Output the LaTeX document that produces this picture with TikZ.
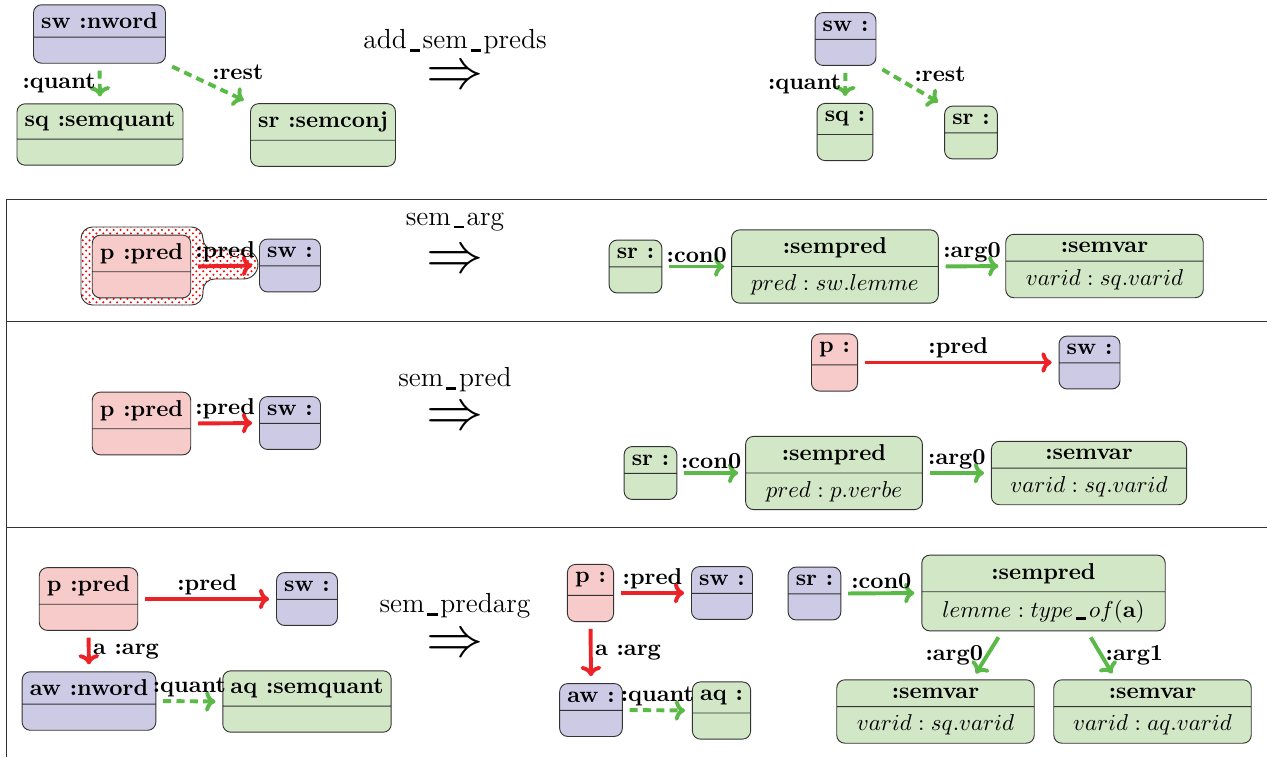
\documentclass[tikz,border=0pt]{standalone}
\usepackage{amsmath, amssymb}
\usepackage{tikz}
\usetikzlibrary{shapes.multipart, patterns, arrows.meta}

\definecolor{colmot}{HTML}{CCCAE5}
\definecolor{colpred}{HTML}{F8CBCB}
\definecolor{colsem}{HTML}{D2E7C6}
\definecolor{flrouge}{HTML}{EC2227}
\definecolor{flvert}{HTML}{5AB947}
\newcommand\sousl{\kern1.2pt\rule[-1.2pt]{4.5pt}{1.1pt}\kern1.2pt}

\begin{document}
\begin{tikzpicture}[x=0.0153cm, y=-0.0153cm,
  boite/.style={rectangle split, rectangle split parts=2, draw=black!80,
    rounded corners=3.5pt, font=\bfseries, rectangle split empty part height=3pt},
  motb/.style={boite, fill=colmot},
  predb/.style={boite, fill=colpred},
  semb/.style={boite, fill=colsem},
  lab/.style={font=\bfseries, inner sep=1pt},
  regle/.style={font=\large, inner sep=1pt},
  impl/.style={font=\Huge, inner sep=0pt},
  fl/.style={-{Computer Modern Rightarrow[length=4.5pt,width=9pt]}, line width=1.7pt,
    shorten <=3pt, shorten >=3pt},
  rouge/.style={fl, draw=flrouge},
  vert/.style={fl, draw=flvert},
  tirets/.style={vert, dash pattern=on 3.5pt off 2.3pt}]
\useasboundingbox (0,0) rectangle (1267,757);

% Cadre
\draw[black!80] (6,757) -- (6,199) -- (1267,199);
\draw[black!80] (6,321) -- (1267,321);
\draw[black!80] (6,527) -- (1267,527);

% add_sem_preds : avant
\node[motb] (swa) at (99.5,34) {sw :nword\nodepart{two}};
\node[semb] (sqa) at (100,134.5) {sq :semquant\nodepart{two}};
\node[semb] (sra) at (323,135) {sr :semconj\nodepart{two}};
\draw[tirets] (swa.south) -- node[lab,left] {:quant} (sqa.north);
\draw[tirets] (swa.south east) -- node[lab,above right] {:rest} (sra.north west);

\node[regle] (ra) at (455,42) {add\sousl sem\sousl preds};
\node[impl] (ia) at (455,78) {$\Rightarrow$};

% add_sem_preds : apres
\node[motb] (swb) at (845.5,39) {sw :\nodepart{two}};
\node[semb] (sqb) at (845,132) {sq :\nodepart{two}};
\node[semb] (srb) at (971,132.5) {sr :\nodepart{two}};
\draw[tirets] (swb.south) -- node[lab,left] {:quant} (sqb.north);
\draw[tirets] (swb.south east) -- node[lab,above right] {:rest} (srb.north west);

% sem_arg : avant
\draw[black!80, pattern=crosshatch dots, pattern color=red, rounded corners=5pt]
  (81,227) -- (203,227) -- (203,250) [rounded corners=6.3pt] -- (258,250) -- (258,279)
  [rounded corners=5pt] -- (203,279) -- (203,305) -- (81,305) -- cycle;
\node[predb] (pc) at (141.5,266.5) {p :pred\nodepart{two}};
\node[motb] (swc) at (290,265.5) {sw :\nodepart{two}};
\draw[rouge] (pc.east) -- node[lab,above] {:pred} (swc.west);

\node[regle] (rc) at (455,222) {sem\sousl arg};
\node[impl] (ic) at (455,262) {$\Rightarrow$};

% sem_arg : apres
\node[semb] (src) at (635.5,266.5) {sr :\nodepart{two}};
\node[semb, minimum width=90pt] (spc) at (835,266.5) {:sempred\nodepart{two}$pred : sw.lemme$};
\node[semb, minimum width=86pt] (svc) at (1104.5,266) {:semvar\nodepart{two}$varid : sq.varid$};
\draw[vert] (src.east) -- node[lab,above] {:con0} (spc.west);
\draw[vert] (spc.east) -- node[lab,above] {:arg0} (svc.west);

% sem_pred : avant
\node[predb] (pd) at (141.5,423.5) {p :pred\nodepart{two}};
\node[motb] (swd) at (290,423) {sw :\nodepart{two}};
\draw[rouge] (pd.east) -- node[lab,above] {:pred} (swd.west);

\node[regle] (rd) at (455,380) {sem\sousl pred};
\node[impl] (id) at (455,419) {$\Rightarrow$};

% sem_pred : apres
\node[predb] (pe) at (834.5,362.5) {p :\nodepart{two}};
\node[motb] (swe) at (1089.5,362.5) {sw :\nodepart{two}};
\draw[rouge] (pe.east) -- node[lab,above] {:pred} (swe.west);
\node[semb] (sre) at (650.5,473) {sr :\nodepart{two}};
\node[semb, minimum width=77pt] (spe) at (834,473) {:sempred\nodepart{two}$pred : p.verbe$};
\node[semb, minimum width=85pt] (sve) at (1089,473) {:semvar\nodepart{two}$varid : sq.varid$};
\draw[vert] (sre.east) -- node[lab,above] {:con0} (spe.west);
\draw[vert] (spe.east) -- node[lab,above] {:arg0} (sve.west);

% sem_predarg : avant
\node[predb] (pf) at (88.5,599) {p :pred\nodepart{two}};
\node[motb] (swf) at (307,599) {sw :\nodepart{two}};
\node[motb] (awf) at (89,701) {aw :nword\nodepart{two}};
\node[semb] (aqf) at (307,701.5) {aq :semquant\nodepart{two}};
\draw[rouge] (pf.east) -- node[lab,above] {:pred} (swf.west);
\draw[rouge] (pf.south) -- node[lab,right] {a :arg} (awf.north);
\draw[tirets] (awf.east) -- node[lab,above] {:quant} (aqf.west);

\node[regle] (rf) at (455,606) {sem\sousl predarg};
\node[impl] (if) at (455,646) {$\Rightarrow$};

% sem_predarg : apres
\node[predb] (pg) at (590.5,593) {p :\nodepart{two}};
\node[motb] (swg) at (722,593) {sw :\nodepart{two}};
\node[motb] (awg) at (591,710) {aw :\nodepart{two}};
\node[semb] (aqg) at (721.5,710.5) {aq :\nodepart{two}};
\draw[rouge] (pg.east) -- node[lab,above] {:pred} (swg.west);
\draw[rouge] (pg.south) -- node[lab,right] {a :arg} (awg.north);
\draw[tirets] (awg.east) -- node[lab,above] {:quant} (aqg.west);
\node[motb] (srg) at (814.5,593.5) {sr :\nodepart{two}};
\node[semb, minimum width=106pt] (spg) at (1043.5,593) {:sempred\nodepart{two}$lemme : type\sousl of(\mathbf{a})$};
\node[semb, minimum width=86pt] (svg) at (935.5,711.5) {:semvar\nodepart{two}$varid : sq.varid$};
\node[semb, minimum width=86pt] (svh) at (1152.5,711.5) {:semvar\nodepart{two}$varid : aq.varid$};
\draw[vert] (srg.east) -- node[lab,above] {:con0} (spg.west);
\draw[vert] ([xshift=-18pt]spg.south) -- node[lab,left] {:arg0} ([xshift=16pt]svg.north);
\draw[vert] ([xshift=19pt]spg.south) -- node[lab,right] {:arg1} ([xshift=-16pt]svh.north);
\end{tikzpicture}
\end{document}
